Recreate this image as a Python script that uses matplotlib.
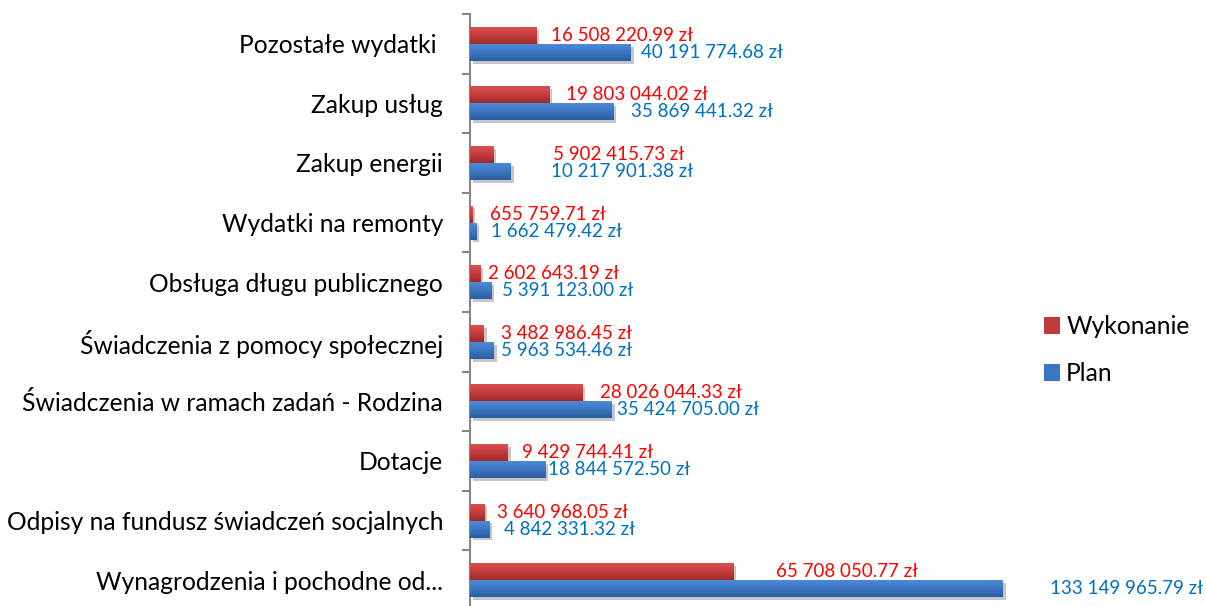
import numpy as np
import matplotlib.pyplot as plt
import matplotlib.patheffects as path_effects
from matplotlib.colors import LinearSegmentedColormap
from matplotlib.patches import Patch

plt.rcParams['font.family'] = ['Lato', 'DejaVu Sans']

# --- Data (top to bottom as in the chart) ---
categories = [
    "Pozostałe wydatki ",
    "Zakup usług",
    "Zakup energii",
    "Wydatki na remonty",
    "Obsługa długu publicznego",
    "Świadczenia z pomocy społecznej",
    "Świadczenia w ramach zadań - Rodzina",
    "Dotacje",
    "Odpisy na fundusz świadczeń socjalnych",
    "Wynagrodzenia i pochodne od...",
]
wykonanie = [16508220.99, 19803044.02, 5902415.73, 655759.71, 2602643.19,
             3482986.45, 28026044.33, 9429744.41, 3640968.05, 65708050.77]
plan = [40191774.68, 35869441.32, 10217901.38, 1662479.42, 5391123.00,
        5963534.46, 35424705.00, 18844572.50, 4842331.32, 133149965.79]

# label nudges in pixels (labels were hand-placed in the original)
off_w = [15, 17, 59, 17, 8, 17, 18, 14, 12, 43]
off_p = [10, 17, 40, 14, 10, 7, 5, 3, 15, 47]

RED = "#C0393B"
BLUE = "#3B76C2"
RED_TXT = "#FF0000"
BLUE_TXT = "#0070C0"

cmap_red = LinearSegmentedColormap.from_list("r", ["#DA5050", "#C43C3C", "#9C2B2B"])
cmap_blue = LinearSegmentedColormap.from_list("b", ["#4E8AD4", "#3B76C2", "#2C5C9C"])


def fmt(v):
    return f"{v:,.2f}".replace(",", " ") + " zł"


fig = plt.figure(figsize=(12.06, 6.06), dpi=100)
ax = fig.add_axes([470 / 1206, -4 / 606, 736 / 1206, 596 / 606])

n = len(categories)
y = np.arange(n)[::-1]
h = 0.285
xmax = 736 / 4.003 * 1e6
ax.set_xlim(0, xmax)
ax.set_ylim(-0.5, n - 0.5)
ax.set_autoscale_on(False)

shadow = [path_effects.SimplePatchShadow(offset=(2, -2), alpha=0.25), path_effects.Normal()]
bars_w = ax.barh(y + h / 2, wykonanie, height=h, color=RED, path_effects=shadow, zorder=2)
bars_p = ax.barh(y - h / 2, plan, height=h, color=BLUE, path_effects=shadow, zorder=2)

grad = np.linspace(0, 1, 64).reshape(-1, 1)
for bars, cm in ((bars_w, cmap_red), (bars_p, cmap_blue)):
    for b in bars:
        x0, y0 = b.get_x(), b.get_y()
        ax.imshow(grad, cmap=cm, aspect="auto", zorder=3,
                  extent=(x0, x0 + b.get_width(), y0, y0 + b.get_height()))

for yi, v, o in zip(y, wykonanie, off_w):
    ax.annotate(fmt(v), xy=(v, yi + h / 2), xytext=(o, 0), textcoords="offset pixels",
                ha="left", va="center", color=RED_TXT, fontsize=13.5)
for yi, v, o in zip(y, plan, off_p):
    ax.annotate(fmt(v), xy=(v, yi - h / 2), xytext=(o, 0), textcoords="offset pixels",
                ha="left", va="center", color=BLUE_TXT, fontsize=13.5)

ax.set_yticks(y)
ax.set_yticklabels(categories, fontsize=17.7)
ax.set_yticks(np.arange(n + 1) - 0.5, minor=True)
ax.tick_params(axis="y", which="major", length=0, pad=19.4)
ax.tick_params(axis="y", which="minor", length=6, color="#868686", width=1.5)
ax.set_xticks([])
for s in ("top", "right", "bottom"):
    ax.spines[s].set_visible(False)
ax.spines["left"].set_color("#868686")
ax.spines["left"].set_linewidth(1.5)

handles = [Patch(facecolor=RED, label="Wykonanie"), Patch(facecolor=BLUE, label="Plan")]
fig.legend(handles=handles, loc="center left", bbox_to_anchor=(1022 / 1206, 1 - 350 / 606),
           frameon=False, fontsize=17.7, handlelength=0.65, handleheight=0.65,
           handletextpad=0.25, labelspacing=0.98)

fig.savefig("out.png", dpi=100)
